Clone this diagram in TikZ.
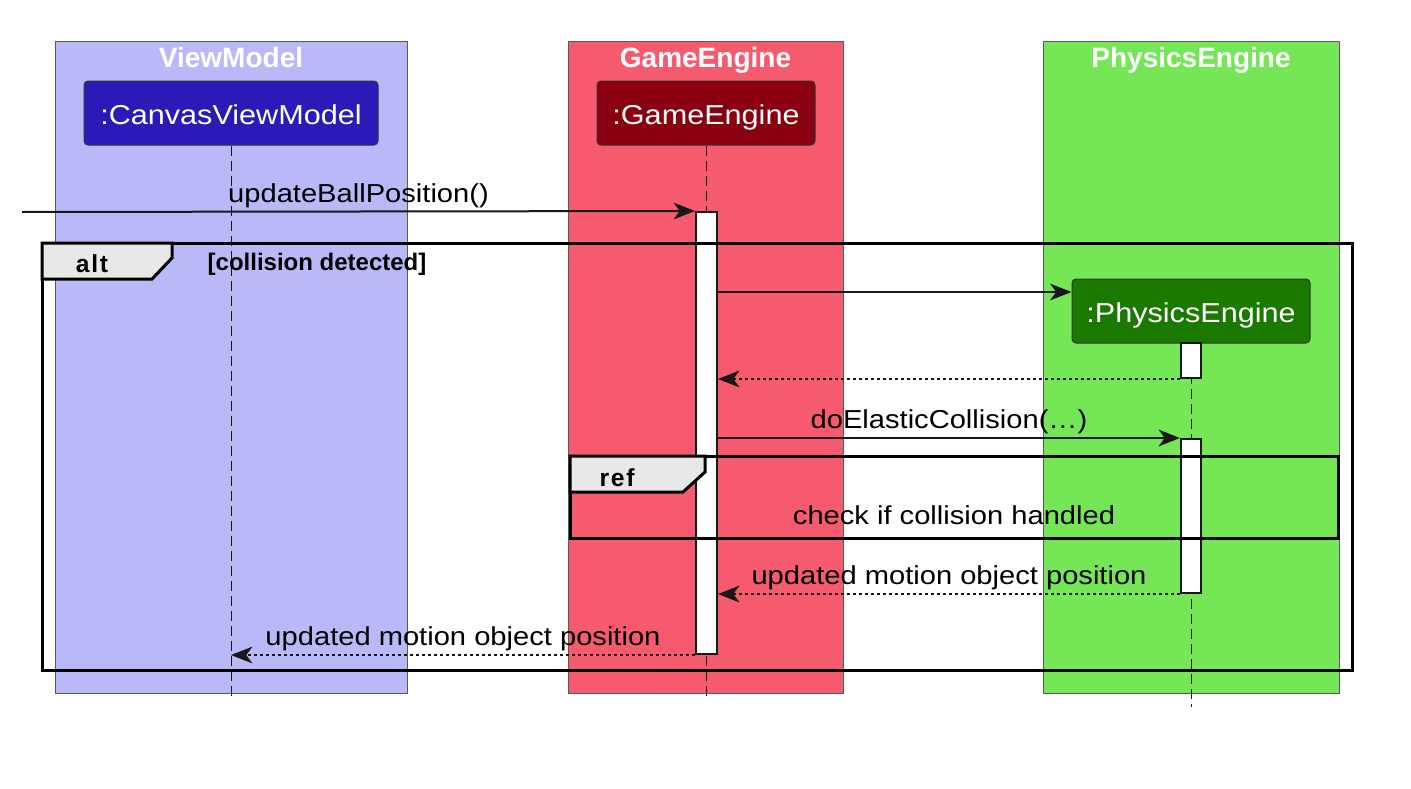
\documentclass[tikz,border=0pt]{standalone}
\usepackage{fontspec}
\setmainfont{Liberation Sans}
\newfontfamily\msgfont{Liberation Sans}[FakeStretch=1.12]
\newfontfamily\tabfont{Liberation Sans}[LetterSpace=7]
\usetikzlibrary{arrows.meta}

\definecolor{vmlane}{RGB}{185,185,248}
\definecolor{gelane}{RGB}{245,90,111}
\definecolor{pelane}{RGB}{117,230,85}
\definecolor{vmpart}{RGB}{42,26,184}
\definecolor{gepart}{RGB}{139,0,17}
\definecolor{pepart}{RGB}{26,122,0}
\definecolor{tabgray}{RGB}{232,232,232}
\definecolor{ink}{RGB}{24,24,24}

\begin{document}
\begin{tikzpicture}[x=0.75pt, y=-0.75pt,
		lane/.style={draw=black!65, line width=0.75pt},
		title/.style={text=white, anchor=base, font=\fontsize{21}{25}\selectfont\bfseries},
		part/.style={draw=black!80, rounded corners=3pt, text=white, minimum height=48pt, inner sep=0pt, text height=16.5pt, text depth=0pt, line width=0.75pt, font=\msgfont\fontsize{20.5}{24}\selectfont},
		actbar/.style={draw=ink, fill=white, minimum width=15.75pt, inner sep=0pt, line width=1.5pt},
		lifeline/.style={draw=ink, line width=0.75pt, dash pattern=on 7.5pt off 3.75pt},
		msg/.style={draw=ink, line width=1.5pt, -{Stealth[length=16pt, width=12.5pt, inset=4.5pt]}},
		ret/.style={msg, dash pattern=on 2.25pt off 2.25pt},
		lbl/.style={inner sep=2pt, font=\msgfont\fontsize{19.5}{23}\selectfont},
		frame/.style={draw=black, line width=2.25pt},
		tab/.style={draw=black, fill=tabgray, line width=2.25pt},
		tablbl/.style={anchor=base, font=\tabfont\fontsize{18.5}{21}\selectfont\bfseries},
		guard/.style={anchor=base west, font=\fontsize{18}{21}\selectfont\bfseries}]
				\useasboundingbox (0,0) rectangle (1411,789);
				% lanes
				\draw[lane, fill=vmlane] (55,41) rectangle (407,693);
				\draw[lane, fill=gelane] (568,41) rectangle (843,693);
				\draw[lane, fill=pelane] (1043,41) rectangle (1339,693);
				\node[title] (VMtitle)at(231,67) {ViewModel};
				\node[title] (GEtitle)at(705.5,67) {GameEngine};
				\node[title] (PEtitle)at(1191,67) {PhysicsEngine};
				% participants
				\node[part, fill=vmpart, minimum width=220.5pt] (CVM)at(231,113) {:CanvasViewModel};
				\node[part, fill=gepart, minimum width=163.5pt] (GE)at(706,113) {:GameEngine};
				\node[part, fill=pepart, minimum width=178.5pt] (PE)at(1191,311) {:PhysicsEngine};
				\coordinate (lifeEnd)at(0,698);
				\coordinate (peEnd)at(0,707);
				\draw[lifeline] (CVM.south) -- (CVM.south |- lifeEnd);
				\draw[lifeline] (GE.south) -- (GE.south |- lifeEnd);
				\draw[lifeline] (PE.south) -- (PE.south |- peEnd);
				% activations
				\node[actbar, minimum height=331.5pt] (GEbar)at(706.5,433) {};
				\node[actbar, minimum width=15pt, minimum height=26.25pt] (PEbar1)at(1191,360.5) {};
				\node[actbar, minimum width=15pt, minimum height=115.5pt] (PEbar2)at(1191,516) {};
				% messages
				\coordinate (caller)at(22,212);
				\coordinate (createY)at(0,292);
				\draw[msg] (caller) -- (GEbar.north west) node[lbl, midway, above] {updateBallPosition()};
				\draw[msg] (GEbar.east |- createY) -- (PE.west |- createY);
				\draw[ret] (PEbar1.south west) -- (GEbar.east |- PEbar1.south);
				\draw[msg] (GEbar.east |- PEbar2.north) -- (PEbar2.north west) node[lbl, midway, above] {doElasticCollision(…)};
				\draw[ret] (PEbar2.south west) -- (GEbar.east |- PEbar2.south) node[lbl, midway, above] {updated motion object position};
				\draw[ret] (GEbar.south west) -- (CVM.south |- GEbar.south) node[lbl, midway, above] {updated motion object position};
				% alt frame
				\draw[frame] (42,243) rectangle (1352,670);
				\draw[tab] (42,243) -- (172,243) -- (172,258) -- (152,279) -- (42,279) -- cycle;
				\node[tablbl] (altLbl)at(92,272) {alt};
				\node[guard] (altGuard)at(203,270) {[collision detected]};
				% ref frame
				\draw[frame] (570,456) rectangle (1338,538);
				\draw[tab] (570,456) -- (705,456) -- (705,472) -- (683,492) -- (570,492) -- cycle;
				\node[tablbl] (refLbl)at(617,486) {ref};
				\node[lbl, anchor=base] (refText)at(954,524) {check if collision handled};
			\end{tikzpicture}
\end{document}
